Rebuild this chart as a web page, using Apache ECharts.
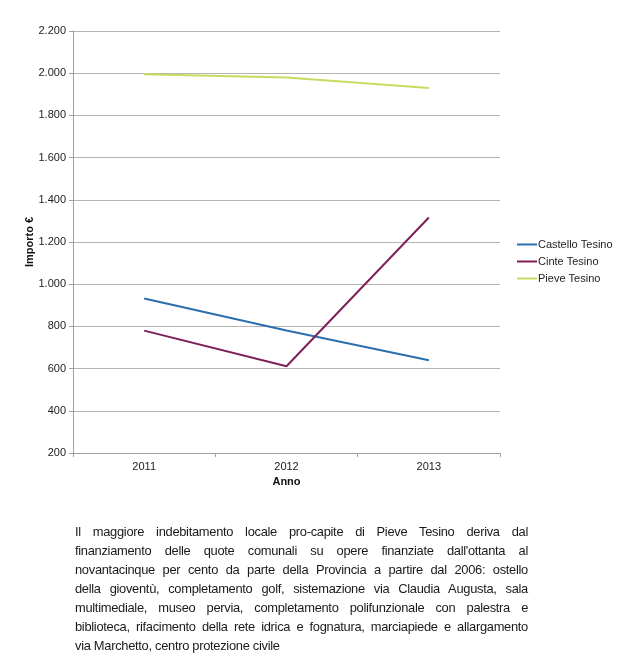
<!DOCTYPE html>
<html><head><meta charset="utf-8">
<script src="https://cdn.jsdelivr.net/npm/echarts@6/dist/echarts.min.js"></script>
<style>
html,body{margin:0;padding:0;background:#fff;}
#c{position:absolute;left:0;top:0;width:627px;height:668px;}
#t{position:absolute;left:75px;top:522px;width:453px;font-family:"Liberation Sans",Arial,sans-serif;font-size:12.9px;line-height:19px;color:#1a1a1a;letter-spacing:-0.3px;}
#t div{text-align:justify;text-align-last:justify;white-space:nowrap;}
#t div.last{text-align-last:left;}
</style></head>
<body>
<div id="c"></div>
<div id="t"></div>
<script>
const years = ['2011','2012','2013'];
const castello = [932, 781, 640];
const cinte = [780, 611, 1316];
const pieve = [1995, 1980, 1930];
const seriesNames = ['Castello Tesino','Cinte Tesino','Pieve Tesino'];
const noteLines = [
 "Il maggiore indebitamento locale pro-capite di Pieve Tesino deriva dal",
 "finanziamento  delle  quote  comunali su  opere  finanziate dall'ottanta  al",
 "novantacinque per cento da parte della Provincia  a partire dal 2006: ostello",
 "della gioventù, completamento golf, sistemazione via Claudia Augusta, sala",
 "multimediale, museo  pervia,  completamento  polifunzionale  con  palestra  e",
 "biblioteca, rifacimento della rete idrica e fognatura, marciapiede e allargamento",
 "via Marchetto, centro protezione civile"
];
const t = document.getElementById('t');
noteLines.forEach((l,i)=>{const d=document.createElement('div');d.textContent=l;if(i===noteLines.length-1)d.className='last';t.appendChild(d);});

const colors = ['#2a6ead','#7e1f58','#c8db60'];
const chart = echarts.init(document.getElementById('c'));
const font = 'Liberation Sans, Arial, sans-serif';
chart.setOption({
  animation:false,
  color:colors,
  textStyle:{fontFamily:font},
  grid:{left:73,right:127,top:31,bottom:215,containLabel:false},
  legend:{orient:'vertical',left:512,top:234,itemWidth:20,itemHeight:2,itemGap:6,
    icon:'rect',textStyle:{fontSize:11,color:'#222',fontFamily:font,padding:[0,0,0,-4]},
    data:seriesNames},
  xAxis:{type:'category',data:years,boundaryGap:true,
    name:'Anno',nameLocation:'middle',nameGap:22,
    nameTextStyle:{fontWeight:'bold',fontSize:11,color:'#111',fontFamily:font},
    axisLine:{lineStyle:{color:'#a0a0a0'}},
    axisTick:{show:true,length:4,lineStyle:{color:'#a0a0a0'}},
    axisLabel:{fontSize:11,color:'#222',margin:8,fontFamily:font}},
  yAxis:{type:'value',min:200,max:2200,interval:200,
    name:'Importo €',nameLocation:'middle',nameGap:38,nameRotate:90,nameMoveOverlap:false,
    nameTextStyle:{fontWeight:'bold',fontSize:11,color:'#111',fontFamily:font},
    axisLine:{show:true,lineStyle:{color:'#a0a0a0'}},
    axisTick:{show:true,length:4,lineStyle:{color:'#a0a0a0'}},
    splitLine:{lineStyle:{color:'#b4b4b4'}},
    axisLabel:{fontSize:11,color:'#222',margin:7,fontFamily:font,
      formatter:v=>v>=1000?(Math.floor(v/1000)+'.'+String(v%1000).padStart(3,'0')):String(v)}},
  series:[
    {name:seriesNames[0],type:'line',data:castello,symbol:'none',lineStyle:{width:2}},
    {name:seriesNames[1],type:'line',data:cinte,symbol:'none',lineStyle:{width:2}},
    {name:seriesNames[2],type:'line',data:pieve,symbol:'none',lineStyle:{width:2}}
  ]
});
</script>
</body></html>
